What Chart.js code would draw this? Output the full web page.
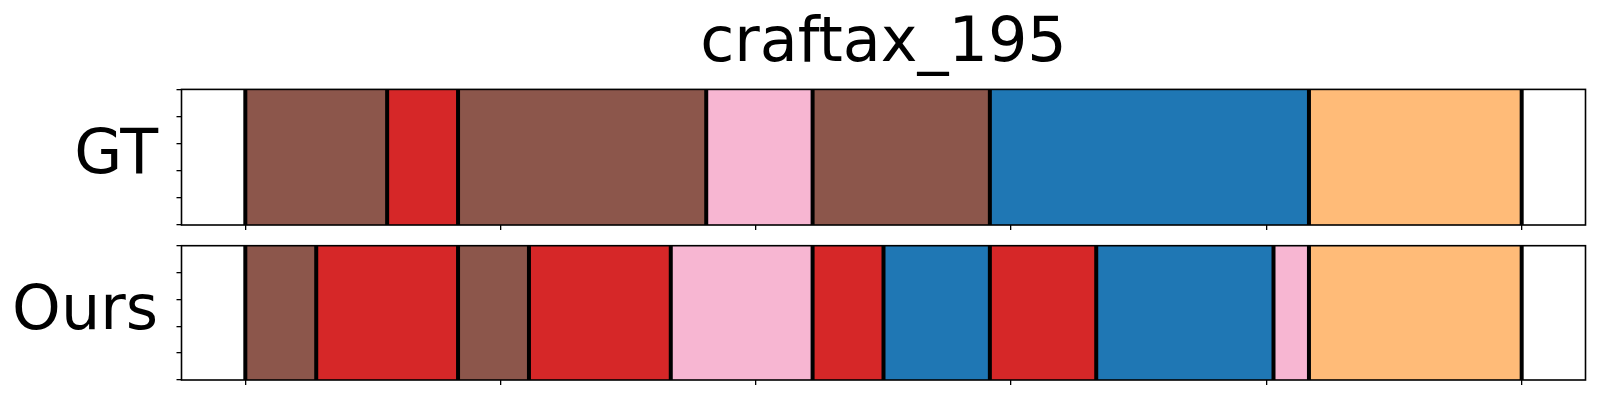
<!DOCTYPE html>
<html>
<head>
<meta charset="utf-8">
<script src="https://cdn.jsdelivr.net/npm/chart.js@4/dist/chart.umd.min.js"></script>
<style>
  html, body { margin: 0; padding: 0; background: #fff; }
  canvas { position: absolute; left: 0; }
</style>
</head>
<body>
<canvas id="gt" width="1600" height="235" style="top:0"></canvas>
<canvas id="ours" width="1600" height="165" style="top:235px"></canvas>
<script>
// segment data (frame units), class ids index into tab20
const title = 'craftax_195';
const xTicks = [0, 7.2, 14.4, 21.6, 28.8, 36];
const yTicks = [0, 0.25, 0.5, 0.75, 1];

const gtStarts  = [0, 4, 6, 13, 16, 21, 30];
const gtEnds    = [4, 6, 13, 16, 21, 30, 36];
const gtClasses = [10, 6, 10, 13, 10, 0, 3];

const oursStarts  = [0, 2, 6, 8, 12, 16, 18, 21, 24, 29, 30];
const oursEnds    = [2, 6, 8, 12, 16, 18, 21, 24, 29, 30, 36];
const oursClasses = [10, 6, 10, 6, 13, 6, 0, 6, 0, 13, 3];

const tab20 = ['#1f77b4','#aec7e8','#ff7f0e','#ffbb78','#2ca02c','#98df8a','#d62728','#ff9896',
  '#9467bd','#c5b0d5','#8c564b','#c49c94','#e377c2','#f7b6d2','#7f7f7f','#c7c7c7',
  '#bcbd22','#dbdb8d','#17becf','#9edae5'];

const FONT = 'DejaVu Sans';

// black lines at segment boundaries + box around the axes
const segLines = {
  id: 'segLines',
  afterDatasetsDraw(chart) {
    const {ctx, chartArea: a, scales: {x}} = chart;
    const bounds = chart.options.plugins.segLines.bounds;
    ctx.save();
    ctx.strokeStyle = '#000';
    ctx.lineWidth = 4;
    bounds.forEach(b => {
      const px = x.getPixelForValue(b);
      ctx.beginPath();
      ctx.moveTo(px, a.top);
      ctx.lineTo(px, a.bottom);
      ctx.stroke();
    });
    ctx.lineWidth = 1.6;
    ctx.strokeRect(a.left, a.top, a.right - a.left, a.bottom - a.top);
    ctx.restore();
  }
};

function makeChart(id, label, starts, ends, classes, opts) {
  const bounds = [...new Set(starts.concat(ends))];
  return new Chart(document.getElementById(id), {
    type: 'bar',
    data: {
      labels: [label],
      datasets: [{
        xAxisID: 'x',
        yAxisID: 'y',
        data: starts.map((s, i) => ({ y: label, x: [s, ends[i]] })),
        backgroundColor: classes.map(c => tab20[c]),
        borderWidth: 0,
        barPercentage: 1,
        categoryPercentage: 1,
        grouped: false
      }]
    },
    options: {
      indexAxis: 'y',
      responsive: false,
      animation: false,
      layout: { padding: { top: opts.padTop, bottom: opts.padBottom, left: 0, right: 14.5 } },
      plugins: {
        legend: { display: false },
        tooltip: { enabled: false },
        title: {
          display: !!opts.title,
          text: opts.title || '',
          fullSize: false,
          color: '#000',
          font: { family: FONT, size: 62, weight: 'normal' },
          padding: { top: 8, bottom: 7 }
        },
        segLines: { bounds }
      },
      scales: {
        y: {
          type: 'category',
          position: 'left',
          weight: 1,
          afterFit: s => { s.width = 176; s.paddingTop = 0; s.paddingBottom = 0; },
          grid: { display: false, drawTicks: false },
          border: { display: false },
          ticks: { color: '#000', padding: 18, font: { family: FONT, size: 62 } }
        },
        yt: {
          type: 'linear',
          position: 'left',
          weight: 0,
          min: 0,
          max: 1,
          afterBuildTicks: s => { s.ticks = yTicks.map(v => ({ value: v })); },
          afterFit: s => { s.width = 5.5; s.paddingTop = 0; s.paddingBottom = 0; },
          grid: { display: true, drawOnChartArea: false, drawTicks: true, tickLength: 5, color: '#000', lineWidth: 1.3 },
          border: { display: false },
          ticks: { display: false }
        },
        x: {
          type: 'linear',
          min: -1.8,
          max: 37.8,
          afterBuildTicks: s => { s.ticks = xTicks.map(v => ({ value: v })); },
          afterFit: s => { s.height = 10; s.paddingLeft = 0; s.paddingRight = 0; },
          grid: { display: true, drawOnChartArea: false, drawTicks: true, tickLength: 5, color: '#000', lineWidth: 1.3 },
          border: { display: false },
          ticks: { display: false }
        }
      }
    },
    plugins: [segLines]
  });
}

makeChart('gt', 'GT', gtStarts, gtEnds, gtClasses, { padTop: 0, padBottom: 0, title: title });
makeChart('ours', 'Ours', oursStarts, oursEnds, oursClasses, { padTop: 10.7, padBottom: 10 });
</script>
</body>
</html>
